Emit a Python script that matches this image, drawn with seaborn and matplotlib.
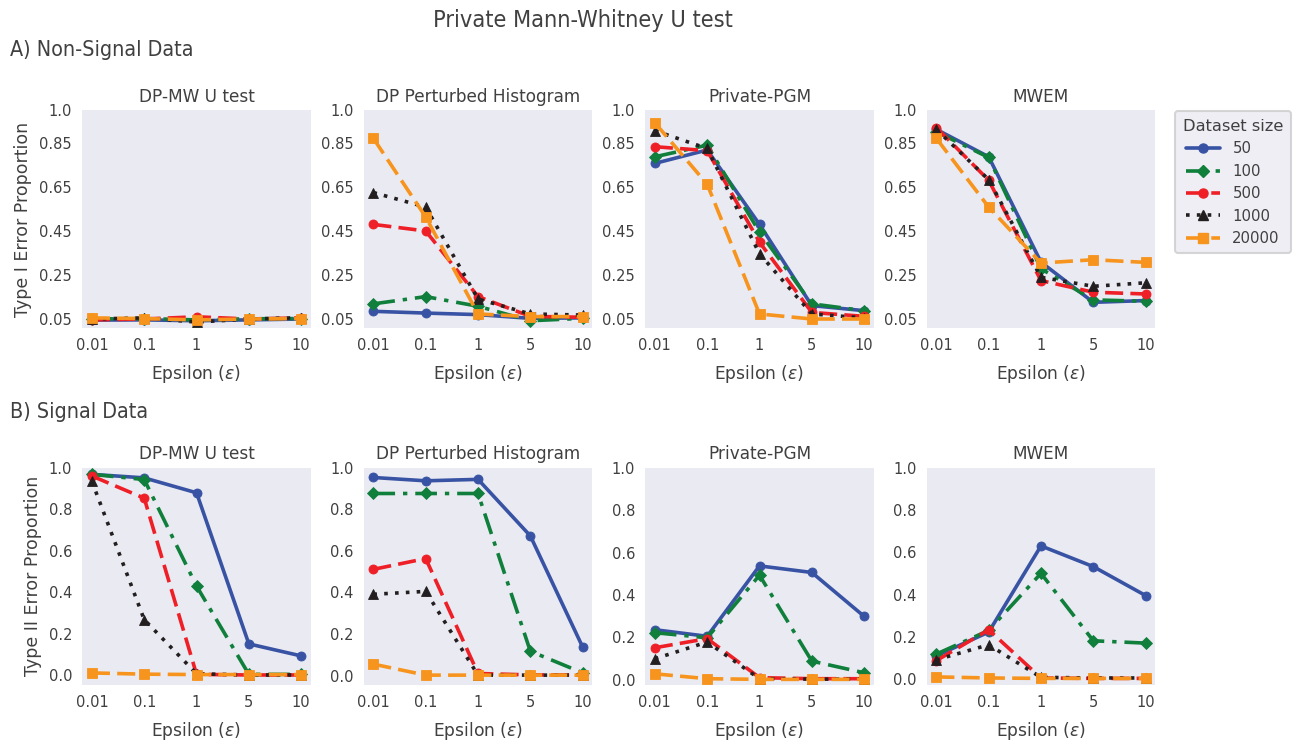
import matplotlib
matplotlib.use("Agg")
import matplotlib.pyplot as plt
from matplotlib.lines import Line2D
import seaborn as sns
import numpy as np

sns.set_style("dark", {"axes.facecolor": "#EAEAF2"})
plt.rcParams["font.family"] = ["DejaVu Sans"]
plt.rcParams["mathtext.fontset"] = "dejavusans"

epsilons = ["0.01", "0.1", "1", "5", "10"]
methods = ["DP-MW U test", "DP Perturbed Histogram", "Private-PGM", "MWEM"]
sizes = ["50", "100", "500", "1000", "20000"]

# Type I error proportion (non-signal data), one list per dataset size
type1_dpmw = {
    "50": [0.045, 0.046, 0.042, 0.046, 0.050],
    "100": [0.050, 0.052, 0.046, 0.051, 0.052],
    "500": [0.046, 0.050, 0.060, 0.050, 0.055],
    "1000": [0.050, 0.055, 0.036, 0.050, 0.056],
    "20000": [0.055, 0.052, 0.046, 0.050, 0.052],
}
type1_hist = {
    "50": [0.085, 0.077, 0.070, 0.053, 0.055],
    "100": [0.119, 0.152, 0.108, 0.042, 0.053],
    "500": [0.481, 0.451, 0.152, 0.062, 0.058],
    "1000": [0.626, 0.560, 0.141, 0.073, 0.068],
    "20000": [0.873, 0.515, 0.073, 0.061, 0.061],
}
type1_pgm = {
    "50": [0.759, 0.820, 0.481, 0.111, 0.088],
    "100": [0.789, 0.842, 0.446, 0.119, 0.088],
    "500": [0.835, 0.817, 0.400, 0.080, 0.062],
    "1000": [0.908, 0.827, 0.347, 0.073, 0.055],
    "20000": [0.944, 0.664, 0.073, 0.050, 0.050],
}
type1_mwem = {
    "50": [0.914, 0.789, 0.309, 0.126, 0.134],
    "100": [0.903, 0.786, 0.279, 0.137, 0.131],
    "500": [0.922, 0.682, 0.225, 0.172, 0.164],
    "1000": [0.914, 0.685, 0.240, 0.199, 0.215],
    "20000": [0.873, 0.560, 0.305, 0.320, 0.308],
}

# Type II error proportion (signal data)
type2_dpmw = {
    "50": [0.968, 0.951, 0.879, 0.150, 0.092],
    "100": [0.968, 0.943, 0.429, 0.003, 0.003],
    "500": [0.960, 0.853, 0.003, 0.000, 0.000],
    "1000": [0.934, 0.267, 0.006, 0.000, 0.000],
    "20000": [0.010, 0.004, 0.002, 0.002, 0.002],
}
type2_hist = {
    "50": [0.953, 0.937, 0.944, 0.672, 0.137],
    "100": [0.876, 0.876, 0.876, 0.117, 0.013],
    "500": [0.511, 0.563, 0.010, 0.003, 0.003],
    "1000": [0.391, 0.405, 0.002, 0.002, 0.002],
    "20000": [0.055, 0.002, 0.002, 0.002, 0.002],
}
type2_pgm = {
    "50": [0.236, 0.205, 0.537, 0.506, 0.299],
    "100": [0.222, 0.198, 0.493, 0.088, 0.033],
    "500": [0.151, 0.194, 0.010, 0.005, 0.005],
    "1000": [0.099, 0.178, 0.005, 0.003, 0.003],
    "20000": [0.028, 0.005, 0.002, 0.002, 0.002],
}
type2_mwem = {
    "50": [0.110, 0.222, 0.630, 0.532, 0.395],
    "100": [0.118, 0.230, 0.500, 0.181, 0.170],
    "500": [0.087, 0.233, 0.005, 0.003, 0.003],
    "1000": [0.091, 0.162, 0.008, 0.005, 0.005],
    "20000": [0.010, 0.005, 0.003, 0.003, 0.003],
}

type1_ticks = [0.05, 0.25, 0.45, 0.65, 0.85, 1.0]
type1_ticklabels = ["0.05", "0.25", "0.45", "0.65", "0.85", "1.0"]
type2_ticks = [0.0, 0.2, 0.4, 0.6, 0.8, 1.0]
type2_ticklabels = ["0.0", "0.2", "0.4", "0.6", "0.8", "1.0"]

colors = {"50": "#3953a4", "100": "#0f7f3b", "500": "#ee1f26",
          "1000": "#231f20", "20000": "#f7941d"}
markers = {"50": "o", "100": "D", "500": "o", "1000": "^", "20000": "s"}
dashes = {"50": (None, None), "100": (6, 2.2, 1.2, 2.2), "500": (5, 2),
          "1000": (1, 2), "20000": (5, 2)}
marker_sizes = {"50": 6.5, "100": 6.5, "500": 6.5, "1000": 7, "20000": 6.5}

fig, axes = plt.subplots(2, 4, figsize=(12.93, 7.40), dpi=100)
fig.subplots_adjust(left=0.0638, right=0.8933, top=0.8507, bottom=0.0743,
                    wspace=0.234, hspace=0.644)

rows = [
    [type1_dpmw, type1_hist, type1_pgm, type1_mwem],
    [type2_dpmw, type2_hist, type2_pgm, type2_mwem],
]
xpos = np.arange(len(epsilons))
text_color = "#404040"

for r, row in enumerate(rows):
    for c, data in enumerate(row):
        ax = axes[r, c]
        for s in sizes:
            sns.lineplot(x=xpos, y=data[s], ax=ax, color=colors[s],
                         marker=markers[s], markersize=marker_sizes[s],
                         markeredgewidth=0.6, markeredgecolor=colors[s],
                         linewidth=2.6, legend=False)
            line = ax.lines[-1]
            if dashes[s][0] is None:
                line.set_linestyle("-")
            else:
                line.set_dashes(dashes[s])
        ax.set_title(methods[c], fontsize=12.2, color=text_color, pad=6)
        ax.set_xticks(xpos)
        ax.set_xticklabels(epsilons)
        ax.set_xlim(-0.18, 4.18)
        ax.set_xlabel(r"Epsilon ($\varepsilon$)", fontsize=12.3,
                      color=text_color, labelpad=7)
        ax.tick_params(axis="both", labelsize=10.5, colors=text_color, pad=4)
        if r == 0:
            ax.set_ylim(0.01, 1.0)
            ax.set_yticks(type1_ticks)
            ax.set_yticklabels(type1_ticklabels)
        else:
            ax.set_ylim(top=1.0)
            ax.set_yticks(type2_ticks)
            ax.set_yticklabels(type2_ticklabels)
        if c == 0:
            ax.set_ylabel("Type I Error Proportion" if r == 0 else
                          "Type II Error Proportion", fontsize=12.5,
                          color=text_color, labelpad=5)
        else:
            ax.set_ylabel("")
        for sp in ax.spines.values():
            sp.set_visible(False)

handles = []
for s in sizes:
    h = Line2D([], [], color=colors[s], marker=markers[s],
               markersize=marker_sizes[s], linewidth=2.6, label=s)
    if dashes[s][0] is not None:
        h.set_dashes(dashes[s])
    handles.append(h)

leg = fig.legend(handles=handles, title="Dataset size", loc="upper left",
                 bbox_to_anchor=(1168 / 1293, 1 - 104 / 740), fontsize=10.7,
                 title_fontsize=11.7, frameon=True, fancybox=True,
                 handlelength=2.3, labelspacing=0.5, borderpad=0.5)
leg.get_frame().set_facecolor("#EAEAF2")
leg.get_frame().set_edgecolor("#CCCCCC")
leg.get_frame().set_linewidth(1.5)
for t in leg.get_texts():
    t.set_color(text_color)
leg.get_title().set_color(text_color)

fig.text(583 / 1293, 1 - 20 / 740, "Private Mann-Whitney U test", ha="center",
         va="center", fontsize=16.8, color=text_color, fontstretch="condensed")
fig.text(10 / 1293, 1 - 50 / 740, "A) Non-Signal Data", ha="left",
         va="center", fontsize=15.4, color=text_color, fontstretch="condensed")
fig.text(10 / 1293, 1 - 412 / 740, "B) Signal Data", ha="left",
         va="center", fontsize=15.4, color=text_color, fontstretch="condensed")

fig.savefig("out.png", dpi=100)
